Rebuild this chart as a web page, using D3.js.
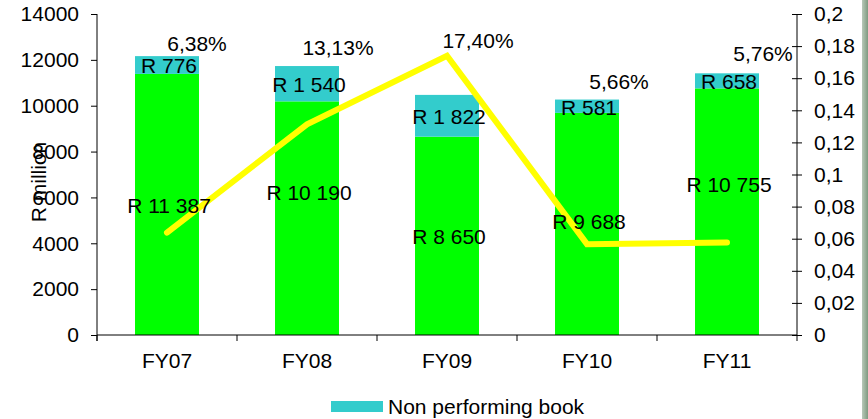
<!DOCTYPE html>
<html>
<head>
<meta charset="utf-8">
<script src="https://cdn.jsdelivr.net/npm/d3@7"></script>
<style>
  html, body { margin: 0; padding: 0; background: #fff; }
  svg { display: block; }
  text { font-family: "Liberation Sans", Arial, sans-serif; fill: #000; }
</style>
</head>
<body>
<svg id="chart" width="868" height="419"></svg>
<script>
// ---- data ----
const years = ["FY07", "FY08", "FY09", "FY10", "FY11"];
const performing = [11387, 10190, 8650, 9688, 10755];
const nonPerforming = [776, 1540, 1822, 581, 658];
const nplRatio = [0.0638, 0.1313, 0.1740, 0.0566, 0.0576];
const leftTicks = [0, 2000, 4000, 6000, 8000, 10000, 12000, 14000];
const rightTicks = [0, 0.02, 0.04, 0.06, 0.08, 0.1, 0.12, 0.14, 0.16, 0.18, 0.2];

// ---- label nudges (px) ----
const performingLabelDy = [1, -26, 1, -2, -27];
const ratioLabelOffset = [[30, -189], [31, -77], [31, -15], [32, -163], [36, -189]];

const FONT = "21px";
const locale = d3.formatLocale({ decimal: ",", thousands: " ", grouping: [3], currency: ["R", ""] });
const fmtRand = v => "R " + locale.format(",")(v);
const fmtPct = locale.format(".2%");
const fmtRight = locale.format(".2~f");

const svg = d3.select("#chart");
const m = { left: 97, right: 797, top: 14, bottom: 335 };

const x = d3.scaleBand().domain(years).range([m.left, m.right])
  .paddingInner(0.543).paddingOuter(0.2715);
const yL = d3.scaleLinear().domain([0, 14000]).range([m.bottom, m.top]);
const yR = d3.scaleLinear().domain([0, 0.2]).range([m.bottom, m.top]);

const rows = years.map((k, i) => ({ year: k, perf: performing[i], npl: nonPerforming[i] }));
const stacked = d3.stack().keys(["perf", "npl"])(rows);
const colors = { perf: "#00ff00", npl: "#33cccc" };

// bars
svg.append("g").selectAll("g").data(stacked).join("g")
  .attr("fill", d => colors[d.key])
  .selectAll("rect").data(d => d).join("rect")
  .attr("x", d => x(d.data.year))
  .attr("width", x.bandwidth())
  .attr("y", d => yL(d[1]))
  .attr("height", d => yL(d[0]) - yL(d[1]));

// left axis
const gL = svg.append("g").attr("transform", `translate(${m.left},0)`)
  .call(d3.axisLeft(yL).tickValues(leftTicks).tickFormat(d3.format("d")).tickSize(6).tickPadding(12));
gL.select(".domain").attr("d", `M0,${m.top}V${m.bottom + 6}`);

// right axis (ticks cross the line)
const gR = svg.append("g").attr("transform", `translate(${m.right},0)`)
  .call(d3.axisRight(yR).tickValues(rightTicks).tickFormat(fmtRight).tickSize(5).tickPadding(12));
gR.selectAll(".tick line").attr("x1", -5).attr("x2", 5);
gR.select(".domain").attr("d", `M0,${m.top}V${m.bottom}`);

// bottom axis: ticks sit on the category boundaries
const gB = svg.append("g").attr("transform", `translate(0,${m.bottom})`)
  .call(d3.axisBottom(x).tickSize(0).tickPadding(18));
gB.select(".domain").attr("d", `M${m.left},0H${m.right}`);
const step = x.step();
gB.selectAll(".bound").data(d3.range(years.length + 1)).join("line")
  .attr("class", "bound")
  .attr("x1", i => m.left + i * step).attr("x2", i => m.left + i * step)
  .attr("y1", 0).attr("y2", 6).attr("stroke", "#000");

svg.selectAll(".tick text").style("font-size", FONT).style("font-family", '"Liberation Sans", Arial, sans-serif');
svg.selectAll(".domain, .tick line").attr("stroke", "#000");

// y title
svg.append("text")
  .attr("transform", "translate(46,182) rotate(-90)")
  .attr("text-anchor", "middle")
  .style("font-size", FONT)
  .text("R million");

// ratio line (under the value labels)
const cx = (d, i) => x(years[i]) + x.bandwidth() / 2;
svg.append("path")
  .datum(nplRatio)
  .attr("fill", "none")
  .attr("stroke", "#ffff00")
  .attr("stroke-width", 6)
  .attr("stroke-linecap", "round")
  .attr("stroke-linejoin", "miter")
  .attr("d", d3.line().x(cx).y(d => yR(d)));

// segment value labels
const labels = svg.append("g").style("font-size", FONT).attr("text-anchor", "middle");
stacked.forEach((layer, li) => {
  labels.selectAll(null).data(layer).join("text")
    .attr("x", d => x(d.data.year) + x.bandwidth() / 2 + 2)
    .attr("y", (d, i) => (yL(d[0]) + yL(d[1])) / 2 + (li === 0 ? performingLabelDy[i] : 1))
    .attr("dy", "0.35em")
    .text(d => fmtRand(d[1] - d[0]));
});

svg.append("g").style("font-size", FONT).attr("text-anchor", "middle")
  .selectAll("text").data(nplRatio).join("text")
  .attr("x", (d, i) => cx(d, i) + ratioLabelOffset[i][0])
  .attr("y", (d, i) => yR(d) + ratioLabelOffset[i][1])
  .attr("dy", "0.35em")
  .text(d => fmtPct(d));

// legend
const lg = svg.append("g").attr("transform", "translate(331,401)");
lg.append("rect").attr("width", 52).attr("height", 11).attr("fill", colors.npl);
lg.append("text").attr("x", 57).attr("y", 5.5).attr("dy", "0.35em")
  .style("font-size", FONT).text("Non performing book");

// frame edge on the right
const grad = svg.append("defs").append("linearGradient").attr("id", "edge")
  .attr("x1", "0").attr("x2", "1");
grad.append("stop").attr("offset", "0").attr("stop-color", "#b9c9b9");
grad.append("stop").attr("offset", "1").attr("stop-color", "#7f9a80");
svg.append("rect").attr("x", 862).attr("y", 0).attr("width", 6).attr("height", 419).attr("fill", "url(#edge)");
</script>
</body>
</html>
